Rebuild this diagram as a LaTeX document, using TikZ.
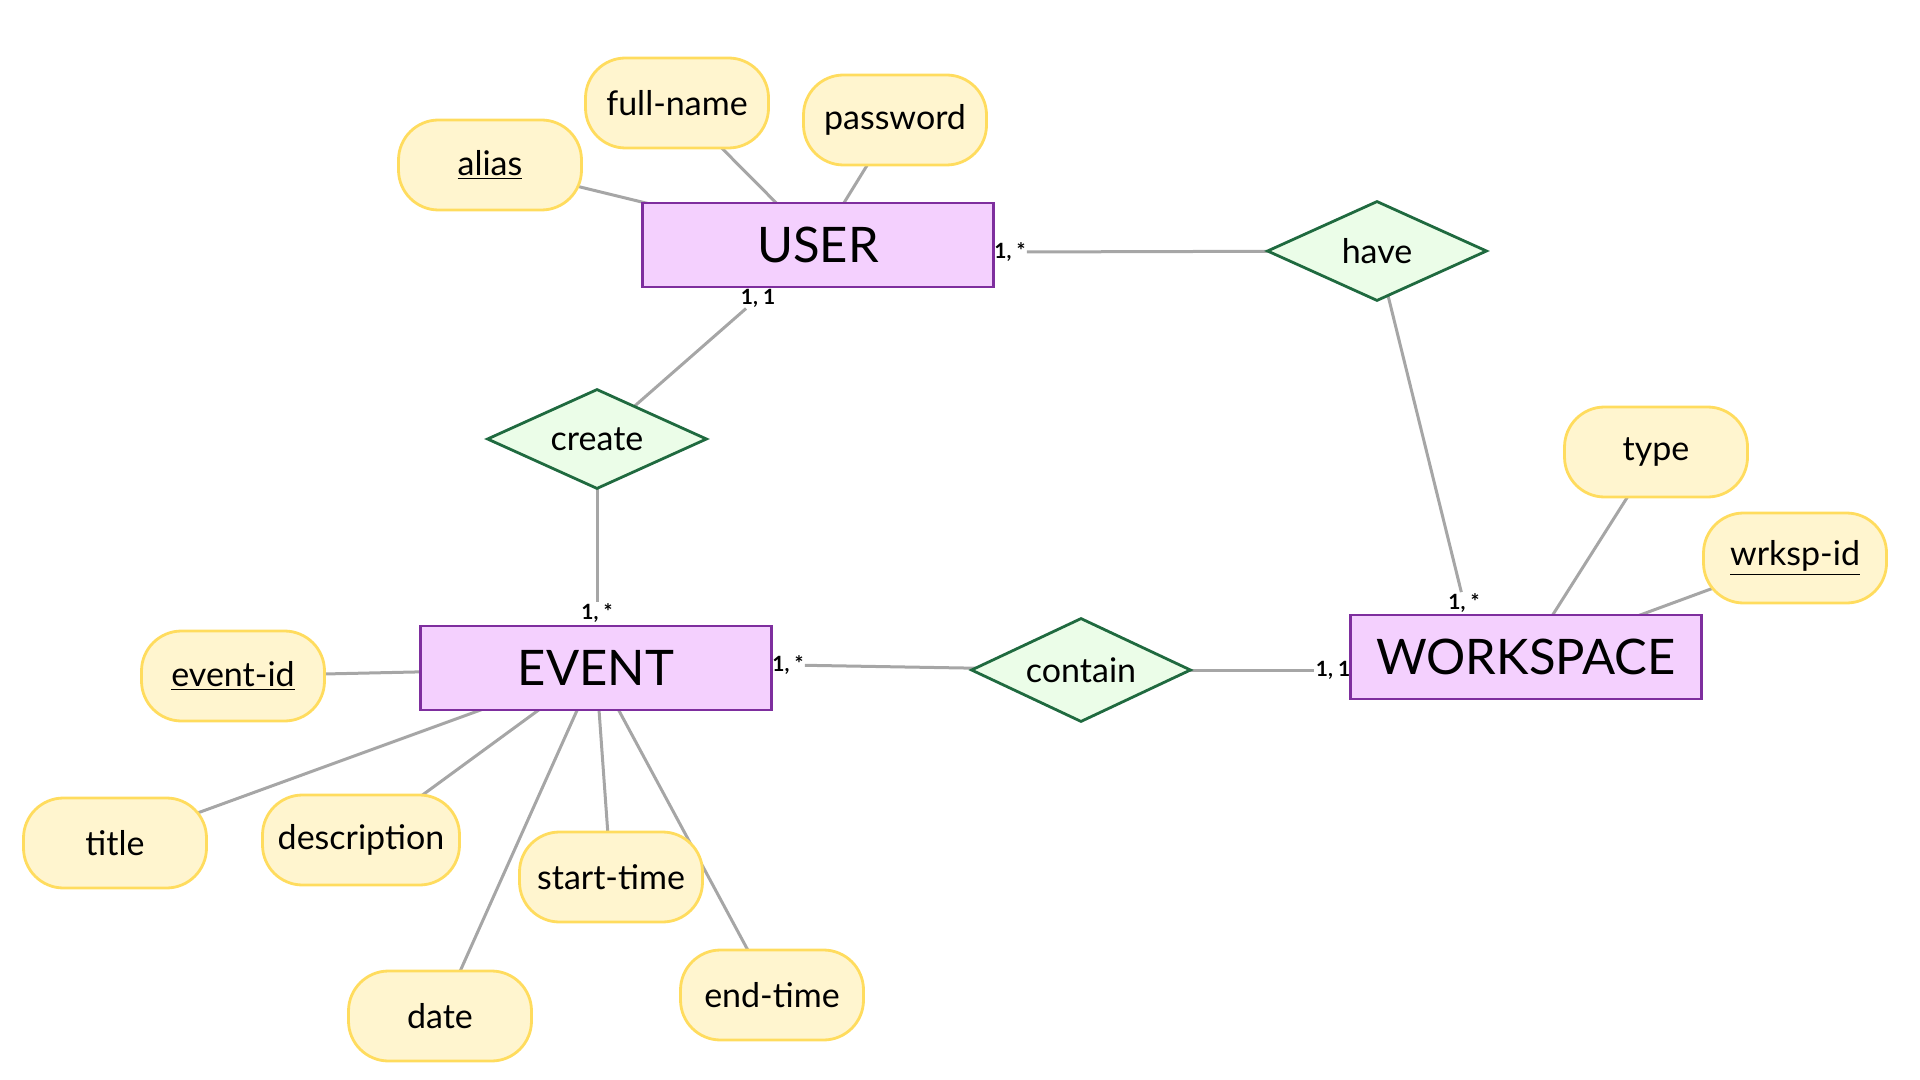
\documentclass[tikz,border=0pt]{standalone}
\usepackage{fontspec}
\setmainfont{Lato}
\usetikzlibrary{shapes.geometric,backgrounds}
\definecolor{attrfill}{HTML}{FFF5CF}
\definecolor{attrline}{HTML}{FFDC5E}
\definecolor{entfill}{HTML}{F4D0FE}
\definecolor{entline}{HTML}{7E2E9E}
\definecolor{relfill}{HTML}{EBFDE8}
\definecolor{relline}{HTML}{1F6A3F}
\definecolor{linkgray}{HTML}{A6A6A6}

\begin{document}
\begin{tikzpicture}[x=0.5pt,y=-0.5pt,
		entity/.style={draw=entline, line width=1.2pt, fill=entfill, minimum width=175.5pt, minimum height=42pt, inner sep=0pt, font=\fontsize{24.5}{28}\selectfont},
		attr/.style={draw=attrline, line width=1.4pt, fill=attrfill, rounded corners=20pt, minimum width=91.5pt, minimum height=45pt, inner sep=2pt, font=\fontsize{17}{20}\selectfont},
		rel/.style={diamond, draw=relline, line width=1.4pt, fill=relfill, minimum width=110pt, minimum height=50pt, inner sep=0pt, aspect=2.2, font=\fontsize{17}{20}\selectfont},
		card/.style={inner sep=0.5pt, font=\bfseries\fontsize{10.5}{12}\selectfont},
		link/.style={draw=linkgray, line width=1.5pt}]
			\useasboundingbox (0,0) rectangle (1920,1080);
			\node[entity] (user) at (818,245) {USER};
			\node[entity] (event) at (596,668) {EVENT};
			\node[entity] (wksp) at (1526,657) {WORKSPACE};
			\node[rel] (create) at (597,439) {create};
			\node[rel] (have) at (1377,251) {have};
			\node[rel, minimum height=52pt] (contain) at (1081,670) {contain};
			\node[attr] (alias) at (490,165) {\underline{alias}};
			\node[attr] (fullname) at (677,103) {full-name};
			\node[attr] (password) at (895,120) {password};
			\node[attr] (eventid) at (233,676) {\underline{event-id}};
			\node[attr] (title) at (115,843) {title};
			\node[attr, minimum width=98.5pt] (descr) at (361,840) {description};
			\node[attr] (start) at (611,877) {start-time};
			\node[attr] (date) at (440,1016) {date};
			\node[attr] (endtime) at (772,995) {end-time};
			\node[attr] (type) at (1656,452) {type};
			\node[attr] (wrkspid) at (1795,558) {\underline{wrksp-id}};
			\node[card] (userhave) at (1010,252) {1, *};
			\node[card] (usercreate) at (758,298) {1, 1};
			\node[card] (eventcreate) at (597,613) {1, *};
			\node[card] (wksphave) at (1464,603) {1, *};
			\node[card] (eventcontain) at (788,665) {1, *};
			\node[card] (wkspcontain) at (1333,670) {1, 1};
			\begin{scope}[on background layer]
				\draw[link] (alias.center) -- (user.center);
				\draw[link] (fullname.center) -- (user.center);
				\draw[link] (password.center) -- (user.center);
				\draw[link] (eventid.center) -- (event.center);
				\draw[link] (title.center) -- (event.center);
				\draw[link] (descr.center) -- (event.center);
				\draw[link] (start.center) -- (event.center);
				\draw[link] (date.center) -- (event.center);
				\draw[link] (endtime.center) -- (event.center);
				\draw[link] (type.center) -- (wksp.center);
				\draw[link] (wrkspid.center) -- (wksp.center);
				\draw[link] (create.center) -- (usercreate);
				\draw[link] (create.center) -- (eventcreate);
				\draw[link] (have.center) -- (userhave);
				\draw[link] (have.center) -- (wksphave);
				\draw[link] (contain.center) -- (eventcontain);
				\draw[link] (contain.center) -- (wkspcontain);
			\end{scope}
		\end{tikzpicture}
\end{document}
